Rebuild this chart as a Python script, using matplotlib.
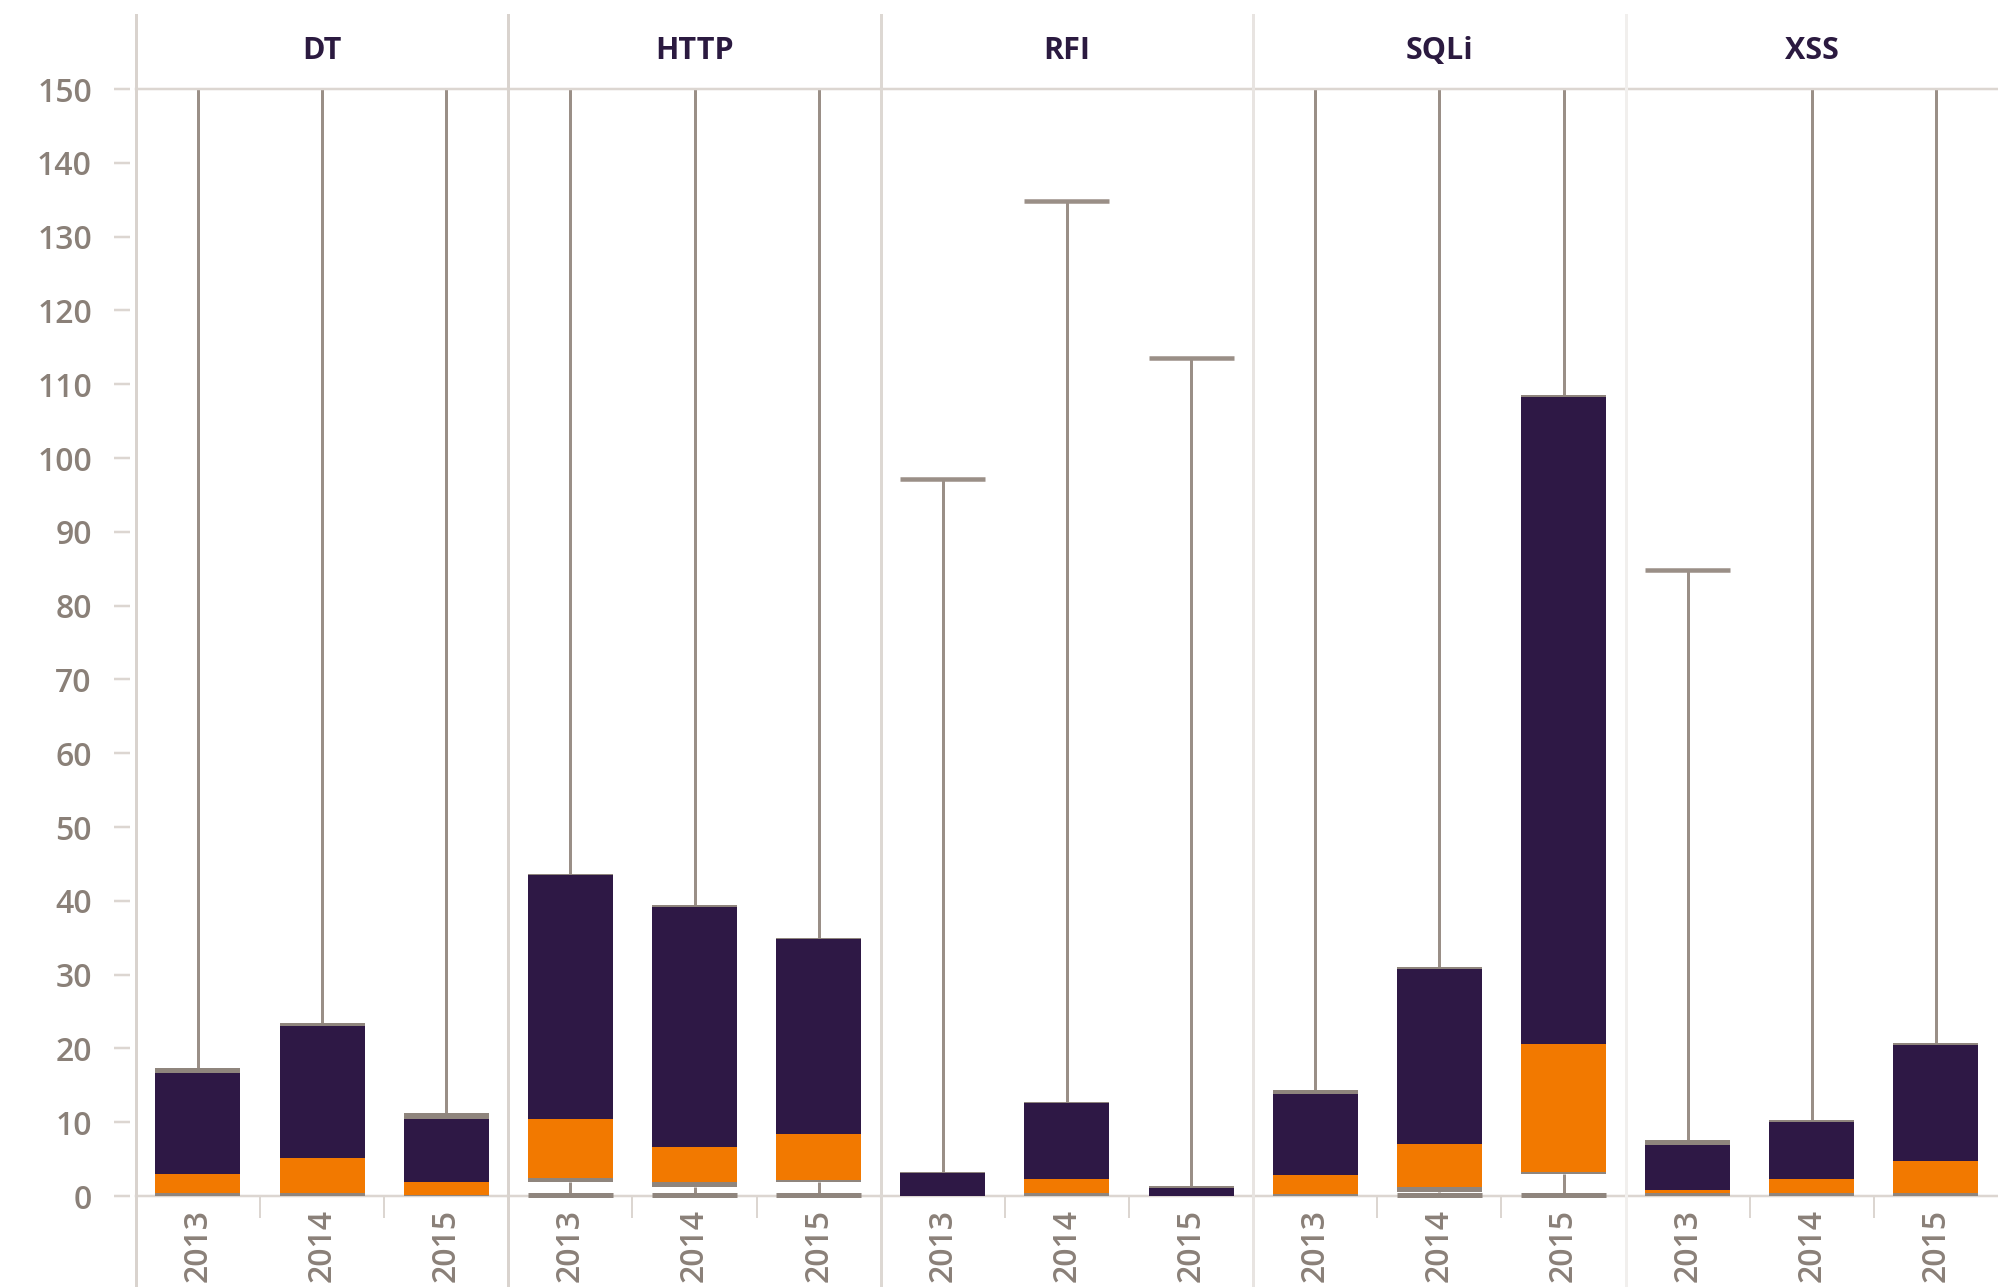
import matplotlib
matplotlib.use("Agg")
import matplotlib.pyplot as plt
from matplotlib.lines import Line2D
import numpy as np

# facets and categories
facets = ['DT', 'HTTP', 'RFI', 'SQLi', 'XSS']
years = ['2013', '2014', '2015']

# box statistics, one row per facet, one column per year
whisker_lo = [[0, 0, 0], [0, 0, 0], [0, 0, 0], [0, 0, 0], [0, 0, 0]]
band_lo = [[0, 0, 0], [1.9, 1.25, 1.9], [0, 0, 0], [0, 0.55, 3.0], [0, 0, 0]]
q1 = [[0.37, 0.37, 0.15], [2.5, 1.85, 2.15], [0, 0.45, 0], [0.27, 1.2, 3.2], [0.45, 0.36, 0.36]]
median = [[3.0, 5.1, 1.9], [10.5, 6.6, 8.4], [0, 2.25, 0], [2.9, 7.0, 20.6], [0.8, 2.25, 4.7]]
q3 = [[16.7, 23.1, 10.5], [43.5, 39.2, 34.8], [3.1, 12.6, 1.1], [13.8, 30.8, 108.3], [6.9, 10.0, 20.5]]
band_hi = [[17.4, 23.5, 11.2], [43.7, 39.5, 35.0], [3.3, 12.8, 1.3], [14.4, 31.0, 108.6], [7.6, 10.3, 20.7]]
whisker_hi = [[150, 150, 150], [150, 150, 150], [97.1, 134.8, 113.5], [150, 150, 150], [84.8, 150, 150]]

yticks = list(range(0, 151, 10))

PURPLE = '#2e1845'
ORANGE = '#f27900'
WHISK = '#9a8f87'
BAND = '#8f857d'
GRID = '#dcd6d1'
LABEL = '#8a8078'
TITLE = '#2b1a40'

plt.rcParams['font.family'] = ['Open Sans', 'DejaVu Sans']
plt.rcParams['font.weight'] = 'semibold'

fig, axes = plt.subplots(1, 5, sharey=True, figsize=(19.98, 12.87), dpi=100)
fig.subplots_adjust(left=0.068, right=1.0, top=0.9308, bottom=0.0707, wspace=0)

W = 0.685
px = 72 / 100.0  # points per pixel

for i, ax in enumerate(axes):
    x = np.arange(len(years))
    lo = np.array(whisker_lo[i]); blo = np.array(band_lo[i]); a = np.array(q1[i])
    m = np.array(median[i]); b = np.array(q3[i]); bhi = np.array(band_hi[i])
    hi = np.array(whisker_hi[i])

    # whiskers
    ax.vlines(x, bhi, hi, color=WHISK, lw=3 * px, zorder=1)
    ax.vlines(x, lo, blo, color=WHISK, lw=3 * px, zorder=1)
    for j in range(len(years)):
        if hi[j] < 150:
            ax.hlines(hi[j], x[j] - W / 2, x[j] + W / 2, color=WHISK, lw=4.5 * px, zorder=2)
        if lo[j] < blo[j]:
            ax.hlines(lo[j] + 0.15, x[j] - W / 2, x[j] + W / 2, color=BAND, lw=5 * px,
                      zorder=4, clip_on=False)

    # boxes
    ax.bar(x, a - blo, W, bottom=blo, color=BAND, zorder=3)
    ax.bar(x, m - a, W, bottom=a, color=ORANGE, zorder=3)
    ax.bar(x, b - m, W, bottom=m, color=PURPLE, zorder=3)
    ax.bar(x, bhi - b, W, bottom=b, color=BAND, zorder=3)

    ax.set_xlim(-0.5, len(years) - 0.5)
    ax.set_ylim(0, 150)
    ax.set_xticks(x)
    ax.set_xticklabels(years, rotation=90, va='top')
    ax.set_xticks(x[:-1] + 0.5, minor=True)
    ax.tick_params(axis='x', which='major', length=0, pad=9, labelsize=23, labelcolor=LABEL)
    ax.tick_params(axis='x', which='minor', length=22 * px, width=2 * px, color=GRID)

    for s in ['left', 'right']:
        ax.spines[s].set_visible(False)
    ax.spines['bottom'].set_color(GRID)
    ax.spines['bottom'].set_linewidth(2.5 * px)
    ax.spines['top'].set_color(GRID)
    ax.spines['top'].set_linewidth(2.5 * px)

    ax.text(0.5, 1.0345, facets[i], transform=ax.transAxes, ha='center', va='center',
            fontsize=22, fontweight='bold', color=TITLE)

ax0 = axes[0]
ax0.set_yticks(yticks)
ax0.spines['left'].set_position(('outward', 6 * px))
ax0.tick_params(axis='y', length=16 * px, width=2.5 * px, color=GRID, pad=22 * px,
                labelsize=23, labelcolor=LABEL)
for ax in axes[1:]:
    ax.tick_params(axis='y', length=0)

# facet separators running from the header to the bottom edge
sep_colors = ['#d9d3ce', '#d9d3ce', '#ddd8d3', '#e8e4e1', '#f1efed']
for ax, c in zip(axes, sep_colors):
    x0 = ax.get_position().x0
    fig.add_artist(Line2D([x0, x0], [0, 1 - 15 / 1287.0], color=c, lw=3 * px,
                          transform=fig.transFigure))

fig.savefig('out.png', dpi=100)
